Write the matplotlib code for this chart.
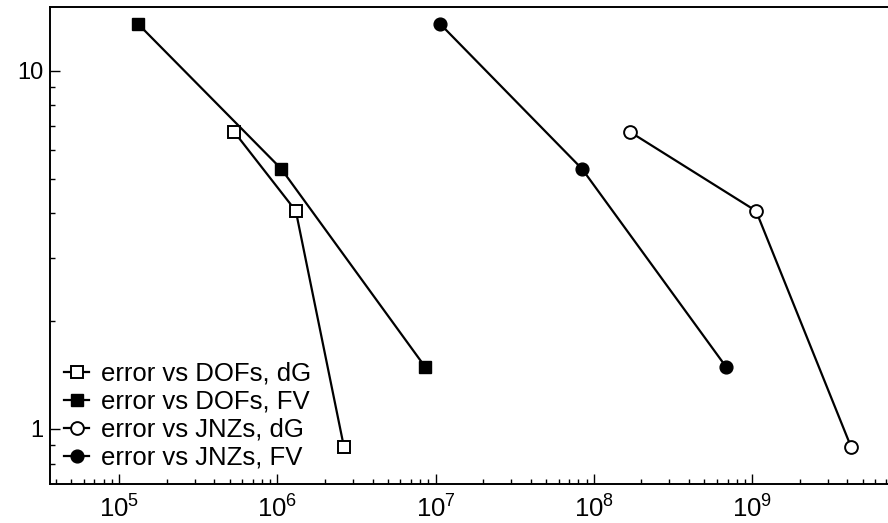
import matplotlib
matplotlib.use("Agg")
import matplotlib.pyplot as plt
from matplotlib.ticker import LogLocator, NullFormatter

plt.rcParams['font.family'] = ['Liberation Sans', 'DejaVu Sans']
plt.rcParams['mathtext.fontset'] = 'custom'
plt.rcParams['mathtext.rm'] = 'Liberation Sans'
plt.rcParams['mathtext.it'] = 'Liberation Sans:italic'

# error values (shared by DOFs and JNZs series)
err_dg = [6.75, 4.06, 0.89]
err_fv = [13.5, 5.32, 1.49]

# degrees of freedom
dofs_dg = [5.34e5, 1.31e6, 2.64e6]
dofs_fv = [1.32e5, 1.06e6, 8.6e6]

# Jacobian non-zeros
jnz_dg = [1.69e8, 1.06e9, 4.23e9]
jnz_fv = [1.07e7, 8.43e7, 6.86e8]

W, H = 888, 523
fig = plt.figure(figsize=(W / 100, H / 100), dpi=100)
# axes box runs off the right side of the picture
ax = fig.add_axes([50 / W, 39 / H, 850 / W, 477.5 / H])

lw = 1.6
ms = 8.7
ax.plot(dofs_dg, err_dg, color='black', lw=lw, marker='s', ms=ms,
        mfc='white', mec='black', mew=1.4, label='error vs DOFs, dG')
ax.plot(dofs_fv, err_fv, color='black', lw=lw, marker='s', ms=ms,
        mfc='black', mec='black', label='error vs DOFs, FV')
ax.plot(jnz_dg, err_dg, color='black', lw=lw, marker='o', ms=ms + 0.5,
        mfc='white', mec='black', mew=1.4, label='error vs JNZs, dG')
ax.plot(jnz_fv, err_fv, color='black', lw=lw, marker='o', ms=ms + 0.5,
        mfc='black', mec='black', label='error vs JNZs, FV')

ax.set_xscale('log')
ax.set_yscale('log')
ax.set_xlim(10 ** 4.564, 10 ** 9.935)
ax.set_ylim(10 ** -0.1535, 10 ** 1.179)

ax.yaxis.set_minor_locator(LogLocator(base=10, subs=range(2, 10), numticks=10))
ax.yaxis.set_minor_formatter(NullFormatter())
ax.set_yticks([1, 10])
ax.set_yticklabels(['1', '10'])
ax.xaxis.set_minor_formatter(NullFormatter())

ax.tick_params(which='both', direction='in', width=1)
ax.tick_params(which='major', length=7)
ax.tick_params(which='minor', length=3.5)
ax.tick_params(axis='y', which='major', labelsize=17, pad=5)
ax.tick_params(axis='x', which='major', labelsize=18.5, pad=8)
ax.tick_params(top=False, right=False, which='both')
for s in ax.spines.values():
    s.set_linewidth(1.4)

ax.legend(loc='lower left', bbox_to_anchor=(0.0, 0.0), frameon=False,
          fontsize=18.5, handlelength=0.98, handletextpad=0.45,
          labelspacing=0.16, borderaxespad=0.25, borderpad=0.3)

fig.savefig('out.png', dpi=100)
